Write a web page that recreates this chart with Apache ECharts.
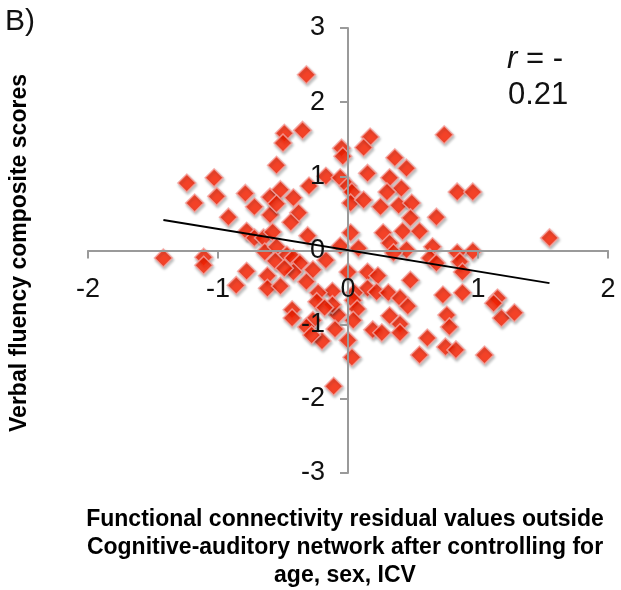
<!DOCTYPE html>
<html>
<head>
<meta charset="utf-8">
<script src="https://cdn.jsdelivr.net/npm/echarts@6/dist/echarts.min.js"></script>
<style>
  html, body { margin: 0; padding: 0; background: #fff; }
  #chart { width: 621px; height: 590px; }
</style>
</head>
<body>
<div id="chart"></div>
<script>
// residual values
var fcResidual = [
  -0.32, -0.35, -0.49, -0.50, -0.55, -0.05, -0.04, 0.17, 0.12, 0.74, 0.36, 0.45,
  -1.24, -1.03, -1.18, -1.01, -0.79, -0.72, -0.60, -0.52, -0.42, -0.30, -0.17, -0.06,
  0.00, 0.03, 0.02, 0.15, 0.32, 0.41, 0.30, 0.84, 0.96,
  -0.92, -0.60, -0.55, -0.38, -0.44, 0.25, 0.39, 0.49, 0.12, 0.48, 0.68,
  0.02, -0.31, -0.78, -0.72, -0.65, -0.58, -0.06, -0.64, -0.55, -0.47,
  0.27, 0.42, 0.55, 0.32, 0.45, 0.65, 0.96, 0.84, 1.55, 0.08,
  -1.42, -1.11, -1.11, -0.78, -0.56, -0.42, -0.37, -0.42, -0.49, -0.27, -0.17,
  0.00, 0.15, 0.23, 0.35, 0.63, 0.68, 0.86, 0.88, 0.48, -0.62,
  -0.86, -0.62, -0.52, -0.32, -0.12, -0.23, 0.15, 0.22, 0.31, 0.40, 0.73, 0.88, 1.15, 0.05,
  -0.24, 0.04, 0.07, 0.46, -0.43, -0.43, -0.27, -0.08, -0.12, 0.04, 0.32, 0.76, 0.78,
  1.18, 1.28, -0.32, -0.10, -0.18, 0.19, 0.40, 1.12,
  -0.20, 0.00, 0.03, 0.26, 0.40, 0.61, 0.55, 0.75, 0.83, 1.05, -0.28, -0.11
];
var fluencyScore = [
  2.37, 1.62, 1.58, 1.45, 1.15, 1.38, 1.27, 1.53, 1.39, 1.56, 1.25, 1.11,
  0.91, 0.98, 0.64, 0.73, 0.77, 0.59, 0.72, 0.82, 0.71, 0.87, 1.00, 0.98,
  0.87, 0.79, 0.64, 1.04, 0.98, 0.84, 0.79, 0.79, 0.79,
  0.45, 0.48, 0.63, 0.51, 0.38, 0.59, 0.61, 0.64, 0.68, 0.44, 0.45,
  0.24, 0.20, 0.26, 0.17, 0.17, 0.25, 0.06, -0.02, 0.05, -0.06,
  0.24, 0.26, 0.26, 0.10, 0.01, 0.05, -0.01, -0.03, 0.17, 0.03,
  -0.10, -0.09, -0.20, -0.28, -0.14, -0.10, -0.17, -0.29, -0.24, -0.26, -0.13,
  -0.29, -0.29, -0.34, -0.03, -0.10, -0.17, -0.15, -0.29, -0.40, -0.34,
  -0.47, -0.51, -0.48, -0.42, -0.55, -0.57, -0.51, -0.56, -0.57, -0.64, -0.60, -0.57, -0.64, -0.57,
  -0.69, -0.67, -0.79, -0.75, -0.80, -0.91, -0.94, -0.87, -0.73, -0.94, -0.88, -0.87, -1.03,
  -0.91, -0.84, -1.03, -1.06, -0.77, -1.07, -0.99, -0.71,
  -1.22, -1.21, -1.44, -1.11, -1.11, -1.18, -1.41, -1.30, -1.34, -1.41, -1.14, -1.83
];
// fitted line end points
var trendX = [-1.42, 1.55];
var trendY = [0.41, -0.44];
var xTicks = [-2, 2, 1];
var yTicks = [-3, 3, 1];

var points = [];
for (var i = 0; i < fcResidual.length; i++) {
  points.push([fcResidual[i], fluencyScore[i]]);
}
var trend = [];
for (var j = 0; j < trendX.length; j++) {
  trend.push([trendX[j], trendY[j]]);
}

var W = 621, H = 590;
var gLeft = 88, gRight = 13, gTop = 28, gBottom = 117;
var gW = W - gLeft - gRight, gH = H - gTop - gBottom;
// axes cross at zero: move each axis (line, ticks, labels) there
var xOff = -gH * (0 - yTicks[0]) / (yTicks[1] - yTicks[0]);
var yOff = -gW * (0 - xTicks[0]) / (xTicks[1] - xTicks[0]);

var chart = echarts.init(document.getElementById('chart'));
var fam = 'Liberation Sans, Arial, sans-serif';
var labelFont = { color: '#111', fontSize: 27, fontFamily: fam };
var titleFont = 'bold 23px ' + fam;

chart.setOption({
  animation: false,
  grid: { left: gLeft, right: gRight, top: gTop, bottom: gBottom, containLabel: false },
  xAxis: {
    type: 'value',
    position: 'bottom',
    offset: xOff,
    z: 5,
    min: xTicks[0], max: xTicks[1], interval: xTicks[2],
    axisLine: { onZero: false, lineStyle: { color: '#9a9a9a', width: 2 } },
    axisTick: { length: 8, lineStyle: { color: '#9a9a9a', width: 2 } },
    axisLabel: Object.assign({ margin: 26 }, labelFont),
    splitLine: { show: false }
  },
  yAxis: {
    type: 'value',
    position: 'left',
    offset: yOff,
    z: 5,
    min: yTicks[0], max: yTicks[1], interval: yTicks[2],
    axisLine: { onZero: false, lineStyle: { color: '#9a9a9a', width: 2 } },
    axisTick: { length: 8, lineStyle: { color: '#9a9a9a', width: 2 } },
    axisLabel: Object.assign({ margin: 23 }, labelFont),
    splitLine: { show: false }
  },
  series: [
    {
      type: 'scatter',
      data: points,
      symbol: 'diamond',
      symbolSize: 18,
      itemStyle: {
        color: '#ff2200',
        borderColor: '#f4a8a4',
        borderWidth: 1.5,
        shadowColor: 'rgba(0,0,0,0.3)',
        shadowBlur: 3,
        shadowOffsetX: 1,
        shadowOffsetY: 2
      },
      z: 2
    },
    {
      type: 'line',
      data: trend,
      symbol: 'none',
      lineStyle: { color: '#000', width: 2 },
      z: 6
    }
  ],
  graphic: [
    {
      type: 'text', left: 5, top: 7,
      style: { text: 'B)', font: '30px ' + fam, fill: '#111' }
    },
    {
      type: 'text', x: 20, y: 253, rotation: Math.PI / 2,
      style: { text: 'Verbal fluency composite scores', font: titleFont, fill: '#000', align: 'center', verticalAlign: 'middle' }
    },
    {
      type: 'text', x: 345, y: 506,
      style: {
        text: 'Functional connectivity residual values outside\nCognitive-auditory network after controlling for\nage, sex, ICV',
        font: titleFont, fill: '#000', align: 'center', lineHeight: 28
      }
    },
    {
      type: 'text', x: 507, y: 44,
      style: {
        text: '{i|r} = -',
        font: '31px ' + fam, fill: '#111',
        rich: { i: { fontStyle: 'italic', fontSize: 31, fontFamily: fam } }
      }
    },
    {
      type: 'text', x: 508, y: 80,
      style: { text: '0.21', font: '31px ' + fam, fill: '#111' }
    },
    {
      type: 'rect', shape: { x: 500, y: 105, width: 80, height: 14 },
      style: { fill: '#fff' }, z: 10
    }
  ]
});
</script>
</body>
</html>
